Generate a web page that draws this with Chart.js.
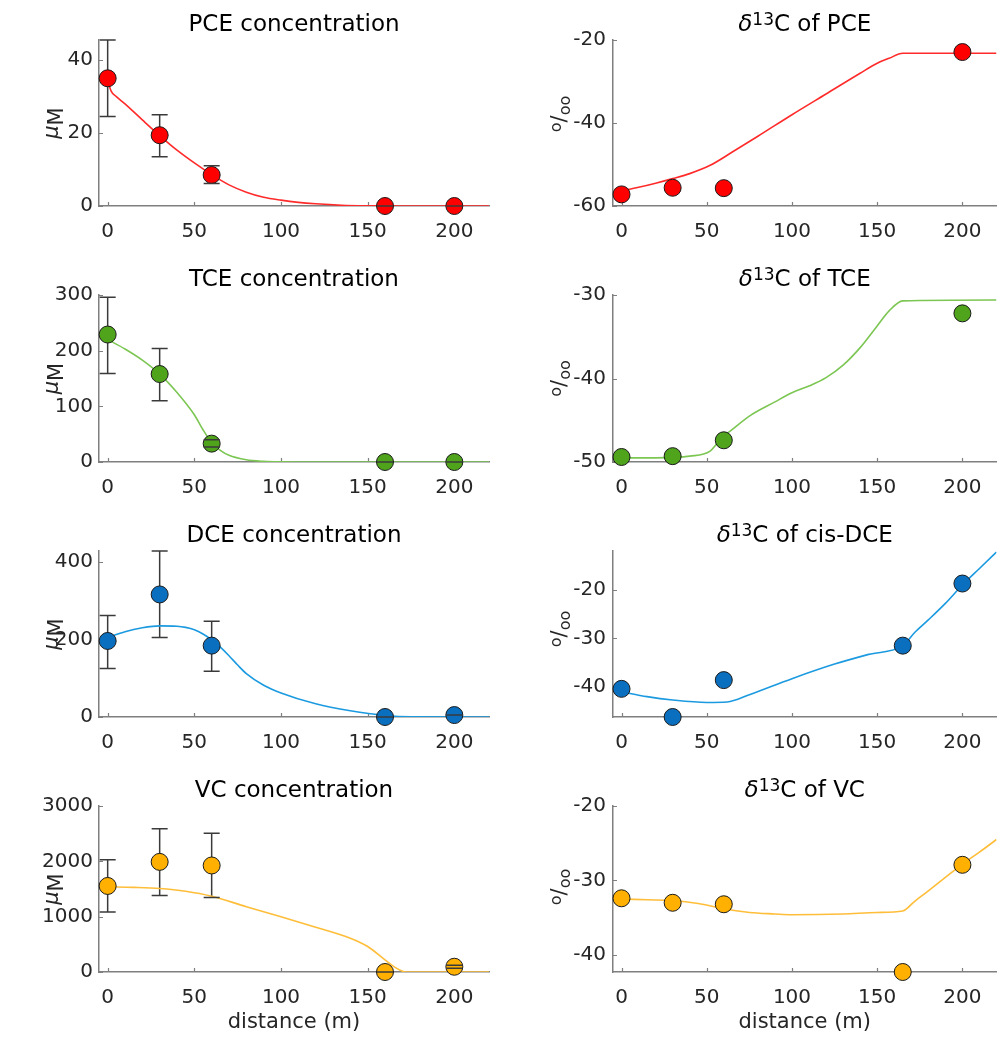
<!DOCTYPE html>
<html>
<head>
<meta charset="utf-8">
<script src="https://cdn.jsdelivr.net/npm/chart.js@4.4.1/dist/chart.umd.min.js"></script>
<style>
  body { margin: 0; background: #fff; }
  #wrap { position: relative; width: 1006px; height: 1038px; }
  #wrap canvas { position: absolute; }
</style>
</head>
<body>
<div id="wrap"></div>
<script>
// ---- data ----
const distTicks = [0, 50, 100, 150, 200];
const concDist = [0, 30, 60, 160, 200];
const isoDist4 = [0, 30, 60, 200];
const isoDist5 = [0, 30, 60, 165, 200];

// PCE
const pceConc = [35, 19.4, 8.5, 0, 0];
const pceConcLo = [24.5, 13.5, 6.2, 0, 0];
const pceConcHi = [45.5, 25, 11, 0, 0];
const pceModelX = [0, 2, 5, 10, 20, 30, 40, 50, 60, 70, 80, 90, 100, 110, 120, 135, 150, 170, 220];
const pceModel = [34.5, 31.5, 30, 28, 23.6, 19.3, 15.3, 11.8, 8.6, 5.8, 3.8, 2.4, 1.6, 1.0, 0.6, 0.2, 0.05, 0, 0];
const pceIso = [-57.2, -55.6, -55.7, -22.9];
const pceIsoModelX = [0, 10, 20, 30, 40, 52, 65, 80, 100, 120, 140, 150, 157, 165, 220];
const pceIsoModel = [-56.4, -55.5, -54.5, -53.4, -52.2, -50.2, -47.0, -43.2, -38.0, -33.0, -28.0, -25.6, -24.4, -23.2, -23.2];

// TCE
const tceConc = [229, 158, 33, 0, 0];
const tceConcLo = [159, 110, 27, 0, 0];
const tceConcHi = [296, 204, 40, 0, 0];
const tceModelX = [0, 10, 20, 30, 40, 50, 55, 60, 65, 70, 80, 90, 100, 120, 220];
const tceModel = [220, 203, 183, 158, 125, 85, 58, 35, 21, 12, 4, 1.2, 0.3, 0, 0];
const tceIso = [-49.4, -49.3, -47.4, -32.2];
const tceIsoModelX = [0, 20, 40, 52, 56, 60, 65, 75, 90, 100, 110, 120, 130, 140, 150, 157, 165, 220];
const tceIsoModel = [-49.5, -49.5, -49.3, -48.7, -47.8, -46.9, -46.1, -44.5, -42.8, -41.7, -40.9, -39.9, -38.4, -36.3, -33.7, -31.9, -30.7, -30.6];

// DCE
const dceConc = [196, 316, 184, 0, 5];
const dceConcLo = [125, 205, 118, 0, 5];
const dceConcHi = [262, 428, 247, 0, 5];
const dceModelX = [0, 10, 20, 30, 40, 45, 50, 55, 60, 65, 70, 75, 80, 90, 100, 120, 140, 160, 175, 220];
const dceModel = [205, 220, 230, 235, 234, 231, 225, 214, 199, 180, 158, 134, 112, 82, 62, 34, 16, 4, 0.5, 0];
const dceIso = [-40.4, -46.2, -38.6, -31.5, -18.7];
const dceIsoModelX = [0, 15, 30, 50, 62, 75, 100, 125, 145, 165, 172, 180, 190, 200, 210, 220];
const dceIsoModel = [-41.0, -42.0, -42.7, -43.2, -43.1, -41.6, -38.3, -35.3, -33.3, -31.5, -28.8, -26.2, -22.8, -19.0, -15.6, -12.2];

// VC
const vcConc = [1555, 1990, 1925, 0, 95];
const vcConcLo = [1083, 1383, 1347, 0, 70];
const vcConcHi = [2029, 2587, 2509, 0, 120];
const vcModelX = [0, 15, 30, 45, 60, 80, 100, 120, 140, 150, 160, 166, 172, 220];
const vcModel = [1540, 1530, 1510, 1460, 1370, 1180, 1000, 810, 610, 460, 220, 80, 0, 0];
const vcIso = [-32.4, -33.0, -33.2, -42.3, -27.9];
const vcIsoModelX = [0, 15, 30, 45, 60, 75, 90, 100, 130, 150, 165, 172, 180, 190, 200, 210, 220];
const vcIsoModel = [-32.5, -32.6, -32.7, -33.1, -33.8, -34.3, -34.5, -34.6, -34.5, -34.3, -34.1, -32.8, -31.4, -29.6, -27.8, -26.2, -24.5];

// ---- look ----
const FONT = '"DejaVu Sans", Verdana, sans-serif';
const AXIS = '#7f7f7f';
const TEXT = '#262626';
const RED = { marker: '#ff0000', line: '#ff2b2b' };
const GREEN = { marker: '#4fa41c', line: '#7cc653' };
const BLUE = { marker: '#0b6fc0', line: '#1b9ae0' };
const ORANGE = { marker: '#ffb000', line: '#ffbe3a' };

const rowTop = [0, 255, 510, 765];
const rowH = [255, 255, 255, 273];
const chartTop = [40, 295, 551, 806];
const chartBottom = [206, 462, 717, 972];
const colX = [0, 503];
const chartLeft = [99, 613];
const chartRight = [489, 1004];

const conc = name => [{ t: name + ' concentration' }];
const delta = name => [{ t: '\u03b4', it: true }, { t: '13', sup: true }, { t: 'C of ' + name }];
const uM = [{ t: '\u03bc', it: true, dy: -5 }, { t: 'M' }];
const permil = [{ t: 'o', sup: true }, { t: '/' }, { t: 'oo', sub: true }];

const panels = [
  { row: 0, col: 0, title: conc('PCE'), ylab: uM, c: RED, px: concDist, py: pceConc, lo: pceConcLo, hi: pceConcHi, mx: pceModelX, my: pceModel, yMin: 0, yMax: 45.5, yTicks: [0, 20, 40] },
  { row: 0, col: 1, title: delta('PCE'), ylab: permil, labShift: -9, c: RED, px: isoDist4, py: pceIso, mx: pceIsoModelX, my: pceIsoModel, yMin: -60, yMax: -20, yTicks: [-60, -40, -20] },
  { row: 1, col: 0, title: conc('TCE'), ylab: uM, c: GREEN, px: concDist, py: tceConc, lo: tceConcLo, hi: tceConcHi, mx: tceModelX, my: tceModel, yMin: 0, yMax: 300, yTicks: [0, 100, 200, 300] },
  { row: 1, col: 1, title: delta('TCE'), ylab: permil, labShift: 0, c: GREEN, px: isoDist4, py: tceIso, mx: tceIsoModelX, my: tceIsoModel, yMin: -50, yMax: -30, yTicks: [-50, -40, -30] },
  { row: 2, col: 0, title: conc('DCE'), ylab: uM, c: BLUE, px: concDist, py: dceConc, lo: dceConcLo, hi: dceConcHi, mx: dceModelX, my: dceModel, yMin: 0, yMax: 428, yTicks: [0, 200, 400] },
  { row: 2, col: 1, title: delta('cis-DCE'), ylab: permil, labShift: -5, c: BLUE, px: isoDist5, py: dceIso, mx: dceIsoModelX, my: dceIsoModel, yMin: -46.2, yMax: -12, yTicks: [-40, -30, -20] },
  { row: 3, col: 0, title: conc('VC'), ylab: uM, c: ORANGE, px: concDist, py: vcConc, lo: vcConcLo, hi: vcConcHi, mx: vcModelX, my: vcModel, yMin: 0, yMax: 3000, yTicks: [0, 1000, 2000, 3000], xlab: true },
  { row: 3, col: 1, title: delta('VC'), ylab: permil, labShift: -2, c: ORANGE, px: isoDist5, py: vcIso, mx: vcIsoModelX, my: vcIsoModel, yMin: -42.3, yMax: -20, yTicks: [-40, -30, -20], xlab: true }
];

// draw a run of text pieces (italic / superscript / subscript), centred on cx
function drawRich(ctx, segs, cx, base, size) {
  const parts = segs.map(s => {
    const fs = (s.sup || s.sub) ? Math.round(size * 0.75) : size;
    const font = (s.it ? 'italic ' : '') + fs + 'px ' + FONT;
    ctx.font = font;
    const dy = (s.sup ? -size * 0.22 : s.sub ? size * 0.2 : 0) + (s.dy || 0);
    return { s, font, w: ctx.measureText(s.t).width, dy };
  });
  let x = cx - parts.reduce((a, p) => a + p.w, 0) / 2;
  ctx.textAlign = 'left';
  ctx.textBaseline = 'alphabetic';
  parts.forEach(p => {
    ctx.font = p.font;
    ctx.fillText(p.s.t, x, base + p.dy);
    x += p.w;
  });
}

const panelDecor = {
  id: 'panelDecor',
  beforeDatasetsDraw(chart, args, o) {
    const { ctx, chartArea: a } = chart;
    const xs = chart.scales.x, ys = chart.scales.y;
    ctx.save();
    ctx.strokeStyle = AXIS;
    ctx.lineWidth = 1.2;
    ctx.beginPath();
    xs.ticks.forEach(t => {
      const p = Math.round(xs.getPixelForValue(t.value)) + 0.5;
      ctx.moveTo(p, a.bottom); ctx.lineTo(p, a.bottom - 4);
    });
    ys.ticks.forEach(t => {
      const p = Math.round(ys.getPixelForValue(t.value)) + 0.5;
      ctx.moveTo(a.left, p); ctx.lineTo(a.left + 4, p);
    });
    ctx.stroke();
    // error bar stems sit behind the markers
    if (o.lo) {
      ctx.strokeStyle = '#3a3a3a';
      ctx.lineWidth = 1.5;
      ctx.beginPath();
      o.px.forEach((v, i) => {
        const x = xs.getPixelForValue(v);
        ctx.moveTo(x, ys.getPixelForValue(o.lo[i]));
        ctx.lineTo(x, ys.getPixelForValue(o.hi[i]));
      });
      ctx.stroke();
    }
    ctx.restore();
  },
  afterDatasetsDraw(chart, args, o) {
    if (!o.lo) return;
    const { ctx } = chart;
    const xs = chart.scales.x, ys = chart.scales.y;
    ctx.save();
    ctx.strokeStyle = '#3a3a3a';
    ctx.lineWidth = 1.5;
    ctx.beginPath();
    o.px.forEach((v, i) => {
      const x = xs.getPixelForValue(v);
      [o.lo[i], o.hi[i]].forEach(e => {
        const y = ys.getPixelForValue(e);
        ctx.moveTo(x - 8, y); ctx.lineTo(x + 8, y);
      });
    });
    ctx.stroke();
    ctx.restore();
  },
  afterDraw(chart, args, o) {
    const { ctx, chartArea: a } = chart;
    ctx.save();
    ctx.fillStyle = '#000';
    drawRich(ctx, o.title, (a.left + a.right) / 2, a.top - 9.5, 23);
    ctx.fillStyle = TEXT;
    ctx.translate(a.left - (o.col ? 47 : 36), (a.top + a.bottom) / 2 + (o.labShift || 0));
    ctx.rotate(-Math.PI / 2);
    drawRich(ctx, o.ylab, 0, 0, 21);
    ctx.restore();
    if (o.xlab) {
      ctx.save();
      ctx.fillStyle = TEXT;
      drawRich(ctx, [{ t: 'distance (m)' }], (a.left + a.right) / 2, a.bottom + 56, 21);
      ctx.restore();
    }
  }
};

const wrap = document.getElementById('wrap');

panels.forEach(p => {
  const cv = document.createElement('canvas');
  const w = 503, h = rowH[p.row];
  cv.width = w; cv.height = h;
  cv.style.left = colX[p.col] + 'px';
  cv.style.top = rowTop[p.row] + 'px';
  wrap.appendChild(cv);

  const yAxisW = chartLeft[p.col] - colX[p.col];
  const xAxisH = rowTop[p.row] + h - chartBottom[p.row];

  new Chart(cv, {
    type: 'scatter',
    data: {
      datasets: [
        {
          type: 'line',
          data: p.mx.map((x, i) => ({ x, y: p.my[i] })),
          borderColor: p.c.line,
          borderWidth: 1.6,
          pointRadius: 0,
          cubicInterpolationMode: 'monotone',
          order: 2
        },
        {
          type: 'scatter',
          data: p.px.map((x, i) => ({ x, y: p.py[i] })),
          backgroundColor: p.c.marker,
          borderColor: '#1a1a1a',
          borderWidth: 1,
          pointRadius: 8.5,
          clip: false,
          order: 1
        }
      ]
    },
    options: {
      responsive: false,
      animation: false,
      events: [],
      layout: { padding: { top: chartTop[p.row] - rowTop[p.row], right: w + colX[p.col] - chartRight[p.col], left: 0, bottom: 0 } },
      plugins: {
        legend: { display: false },
        tooltip: { enabled: false },
        panelDecor: { title: p.title, ylab: p.ylab, col: p.col, labShift: p.labShift, xlab: p.xlab, px: p.px, lo: p.lo, hi: p.hi }
      },
      scales: {
        x: {
          type: 'linear',
          min: -5, max: 220,
          afterBuildTicks: s => { s.ticks = distTicks.map(v => ({ value: v })); },
          afterFit: s => { s.height = xAxisH; },
          grid: { display: false, drawTicks: false },
          border: { color: AXIS, width: 1.5 },
          ticks: { font: { family: FONT, size: 20 }, color: TEXT, padding: 14, maxRotation: 0, autoSkip: false, callback: v => String(v) }
        },
        y: {
          type: 'linear',
          min: p.yMin, max: p.yMax,
          afterBuildTicks: s => { s.ticks = p.yTicks.map(v => ({ value: v })); },
          afterFit: s => { s.width = yAxisW; },
          grid: { display: false, drawTicks: false },
          border: { color: AXIS, width: 1.5 },
          ticks: { font: { family: FONT, size: 20 }, color: TEXT, padding: p.col ? 7 : 6, callback: v => String(v) }
        }
      }
    },
    plugins: [panelDecor]
  });
});
</script>
</body>
</html>
